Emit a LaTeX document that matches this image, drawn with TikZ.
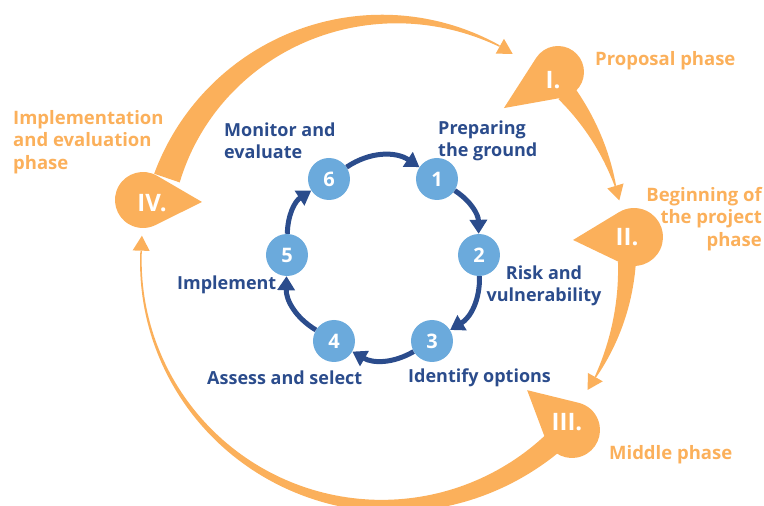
\documentclass[tikz,border=0pt]{standalone}
\usepackage{fontspec}
\setmainfont{Open Sans}
\usetikzlibrary{arrows.meta,calc}
\definecolor{phaseor}{HTML}{FBB05B}
\definecolor{stepblue}{HTML}{2B4C8C}
\definecolor{circblue}{HTML}{6BAADC}
% teardrop: cx cy r phi D
\newcommand\tdrop[5]{%
  \pgfmathsetmacro\tdA{acos(#3/#5)}%
  \fill[phaseor] ($(#1,#2)+(#4:#5)$) -- ($(#1,#2)+({#4+\tdA}:#3)$)
    arc[start angle={#4+\tdA}, end angle={#4-\tdA+360}, radius=#3] -- cycle;}
% tapered band: A B R0 R1 W0 W1 k
\newcommand\band[7]{%
  \fill[phaseor] plot[domain=0:1,samples=100,variable=\t]
    ({(#1)+((#2)-(#1))*\t}:{(#3)+((#4)-(#3))*\t+0.5*((#6)+((#5)-(#6))*(1-\t)*(1-(#7)*\t))})
    -- plot[domain=1:0,samples=100,variable=\t]
    ({(#1)+((#2)-(#1))*\t}:{(#3)+((#4)-(#3))*\t-0.5*((#6)+((#5)-(#6))*(1-\t)*(1-(#7)*\t))})
    -- cycle;
  \pgfmathsetmacro\bdD{15/(#4)*57.2958}%
  \fill[phaseor] (#2:{#4+8.5}) -- ({(#2)-\bdD}:#4) -- (#2:{#4-8.5}) -- cycle;}
\tikzset{
  phaselabel/.style={text=phaseor,font=\bfseries\fontsize{18.5}{22.5}\selectfont,inner sep=0pt},
  steplabel/.style={text=stepblue,font=\bfseries\fontsize{18}{22}\selectfont,inner sep=0pt},
  numeral/.style={text=white,font=\bfseries\fontsize{24}{24}\selectfont,inner sep=0pt},
  stepcirc/.style={circle,fill=circblue,minimum size=42pt,inner sep=0pt,text=white,font=\bfseries\fontsize{20}{20}\selectfont},
  steparrow/.style={draw=stepblue,line width=5pt,-{Triangle[length=14pt,width=17pt]}}
}
\begin{document}
\begin{tikzpicture}[x=1pt,y=1pt]
\useasboundingbox (-383,-249) rectangle (381,257);
% outer ring bands
\band{160}{61}{230}{241}{27}{1.5}{0}
\band{42}{17}{246}{243}{20}{1.5}{0}
\band{-1}{-29.5}{244}{244}{18}{1.5}{-0.3}
\band{-47}{-181.5}{252}{242}{22}{1.5}{0.8}
% teardrops
\tdrop{175}{185}{26}{213.7}{65}
\tdrop{251}{20}{29}{182.8}{61}
\tdrop{189}{-173}{28}{138.4}{60}
\tdrop{-240}{57}{28}{-1.9}{59}
\node[numeral] (pI) at (170,177) {I.};
\node[numeral] (pII) at (244,20) {II.};
\node[numeral] (pIII) at (184,-165) {III.};
\node[numeral] (pIV) at (-231,54) {IV.};
% phase labels
\node[phaselabel,anchor=west] (lI) at (212,196) {Proposal phase};
\node[phaselabel,anchor=east,align=right] (lII) at (379,38) {Beginning of\\the project\\phase};
\node[phaselabel,anchor=west] (lIII) at (226,-198) {Middle phase};
\node[phaselabel,anchor=west,align=left] (lIV) at (-370,115) {Implementation\\and evaluation\\phase};
% inner cycle
\node[stepcirc] (n1) at (54,78) {1};
\node[stepcirc] (n2) at (96,2) {2};
\node[stepcirc] (n3) at (49,-84) {3};
\node[stepcirc] (n4) at (-49,-84) {4};
\node[stepcirc] (n5) at (-96,2) {5};
\node[stepcirc] (n6) at (-54,78) {6};
\draw[steparrow] (n6) to[bend left=34] (n1);
\draw[steparrow] (n1) to[bend left=28] (n2);
\draw[steparrow] (n2) to[bend left=30] (n3);
\draw[steparrow] (n3) to[bend left=30] (n4);
\draw[steparrow] (n4) to[bend left=30] (n5);
\draw[steparrow] (n5) to[bend left=28] (n6);
% step labels
\node[steplabel,anchor=west,align=left] (s6) at (-159,116) {Monitor and\\evaluate};
\node[steplabel,anchor=west,align=left] (s1) at (55,116) {Preparing\\the ground};
\node[steplabel,align=center] (s2) at (161,-29) {Risk and\\vulnerability};
\node[steplabel,anchor=west] (s5) at (-206,-28) {Implement};
\node[steplabel,anchor=west] (s4) at (-176,-121) {Assess and select};
\node[steplabel,anchor=west] (s3) at (25,-121) {Identify options};
\end{tikzpicture}
\end{document}
